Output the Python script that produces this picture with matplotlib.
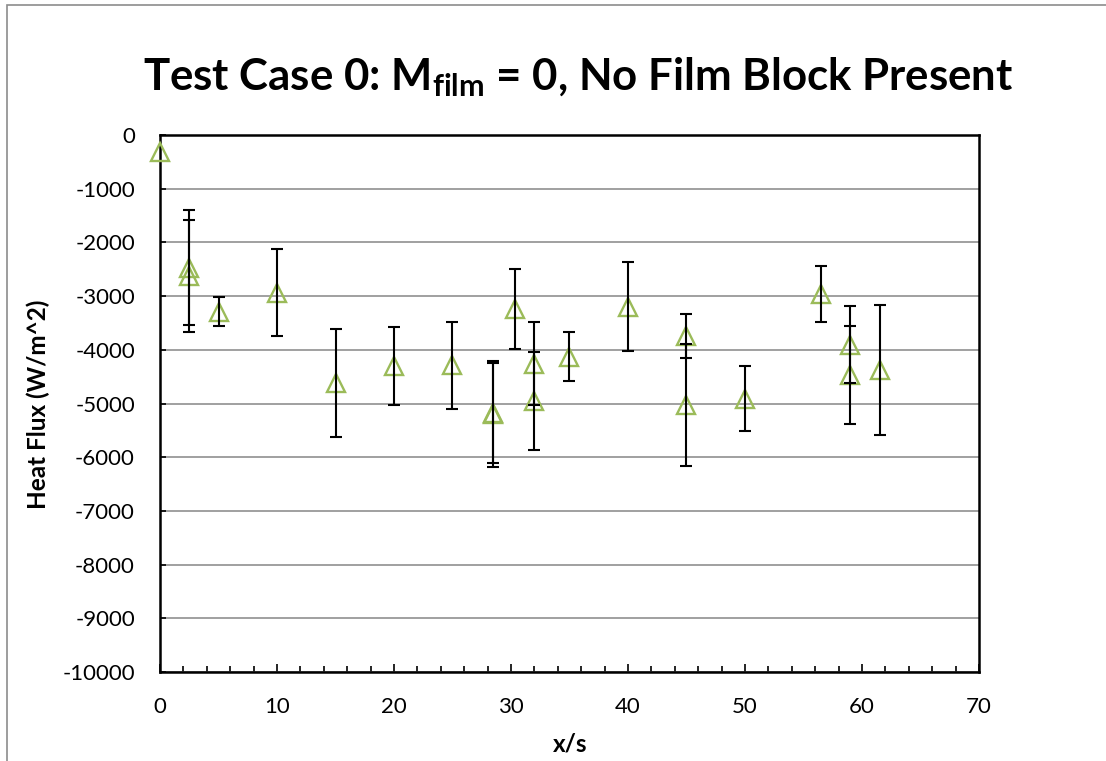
#!/usr/bin/env python3
"""Heat flux vs x/s for test case 0 (no film block)."""

import numpy as np
import matplotlib
matplotlib.use("Agg")
import matplotlib.pyplot as plt
from matplotlib.patches import Rectangle
from matplotlib.ticker import MultipleLocator

plt.rcParams.update({
    "font.family": ["Lato", "DejaVu Sans"],
    "mathtext.fontset": "custom",
    "mathtext.rm": "Lato",
    "mathtext.bf": "Lato:bold",
    "mathtext.it": "Lato:italic",
    "axes.unicode_minus": False,
})

# measured positions and heat flux with uncertainty
x_s = [0, 2.5, 2.5, 5, 10, 15, 20, 25, 28.5, 28.5, 30.3, 32, 32, 35,
       40, 45, 45, 50, 56.5, 59, 59, 61.5]
heat_flux = [-310, -2470, -2625, -3290, -2935, -4615, -4300, -4285, -5195,
             -5180, -3245, -4260, -4950, -4125, -3200, -3740, -5030, -4910,
             -2965, -3910, -4475, -4380]
flux_err = [0, 1070, 1050, 270, 808, 1010, 733, 810, 987, 926, 745, 775,
            910, 456, 826, 413, 1130, 600, 522, 717, 913, 1205]

GREEN = "#9BBB59"

W, H = 1106, 761
fig = plt.figure(figsize=(W / 100, H / 100), dpi=100)
ax = fig.add_axes([160 / W, 1 - 672 / H, (979 - 160) / W, (672 - 135) / H])

x = np.array(x_s, dtype=float)
y = np.array(heat_flux, dtype=float)
e = np.array(flux_err, dtype=float)
has_err = e > 0

ax.plot(x, y, linestyle="none", marker="^", markersize=13.5,
        markerfacecolor="none", markeredgecolor=GREEN, markeredgewidth=1.7,
        zorder=3, clip_on=False)
ax.errorbar(x[has_err], y[has_err], yerr=e[has_err], fmt="none",
            ecolor="black", elinewidth=1.5, capsize=4.5, capthick=1.5,
            zorder=4)

ax.set_xlim(0, 70)
ax.set_ylim(-10000, 0)
ax.xaxis.set_major_locator(MultipleLocator(10))
ax.xaxis.set_minor_locator(MultipleLocator(2))
ax.yaxis.set_major_locator(MultipleLocator(1000))

ax.grid(axis="y", color="#868686", linewidth=1.1, zorder=0)
ax.set_axisbelow(True)
for sp in ax.spines.values():
    sp.set_linewidth(1.8)
    sp.set_color("black")

ax.tick_params(axis="x", which="major", direction="in", length=5.5,
               width=1.2, labelsize=16, pad=18)
ax.tick_params(axis="x", which="minor", direction="in", length=4,
               width=1.2)
ax.tick_params(axis="y", which="major", direction="in", length=4,
               width=1.2, labelsize=16, pad=18)

fig.text(578 / W, 1 - 90 / H,
         r"Test Case 0: $\mathbf{M_{film}}$ = 0, No Film Block Present",
         ha="center", va="baseline", fontsize=31.5, fontweight="bold")
fig.text(570 / W, 1 - 752 / H, "x/s", ha="center", va="baseline",
         fontsize=17.5, fontweight="bold")
fig.text(38 / W, 1 - 404 / H, "Heat Flux (W/m^2)", ha="center",
         va="center", rotation=90, fontsize=17.5, fontweight="bold")

# chart area border
fig.add_artist(Rectangle((7 / W, -0.1), 1.2, 1 - 5 / H + 0.1,
                         transform=fig.transFigure, fill=False,
                         edgecolor="#8c8c8c", linewidth=1.2))

fig.savefig("out.png", dpi=100)
